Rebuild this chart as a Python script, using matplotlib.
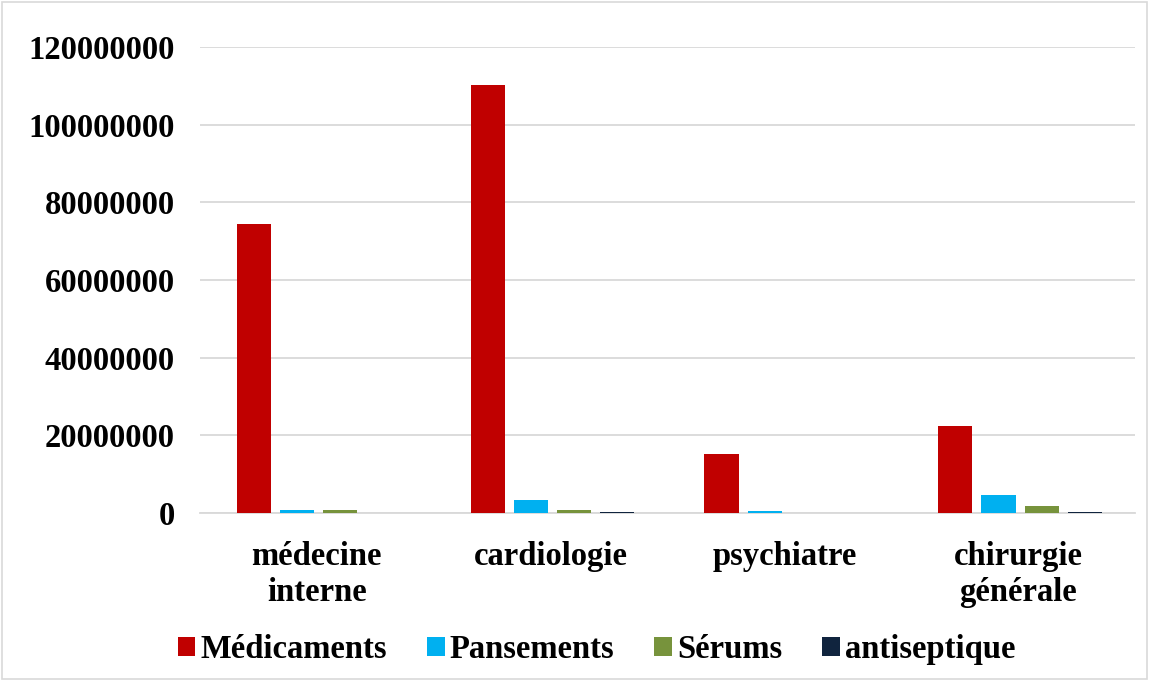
import numpy as np
import matplotlib.pyplot as plt
from matplotlib.patches import Rectangle

# categories and series
services = ['médecine\ninterne', 'cardiologie', 'psychiatre', 'chirurgie\ngénérale']
series = ['Médicaments', 'Pansements', 'Sérums', 'antiseptique']
medicaments = [74500000, 110200000, 15200000, 22400000]
pansements = [700000, 3400000, 500000, 4600000]
serums = [700000, 700000, 0, 1800000]
antiseptique = [100000, 200000, 0, 200000]
yticks = [0, 20000000, 40000000, 60000000, 80000000, 100000000, 120000000]

colors = ['#C00000', '#00B0F0', '#77933C', '#10243E']

plt.rcParams['font.family'] = ['Liberation Serif', 'DejaVu Serif']
plt.rcParams['font.weight'] = 'bold'

fig = plt.figure(figsize=(11.49, 6.8), dpi=100)
ax = fig.add_axes([0.174, 0.2456, 0.814, 0.6853])

x = np.arange(len(services))
slot = 0.185
width = 0.146
data = [medicaments, pansements, serums, antiseptique]
for i, (vals, name, c) in enumerate(zip(data, series, colors)):
    ax.bar(x + (i - 1.5) * slot + 0.008, vals, width, color=c, label=name, zorder=3)

ax.set_xlim(-0.5, 3.5)
ax.set_ylim(0, 120000000)
ax.set_yticks(yticks)
ax.set_yticklabels([str(v) for v in yticks], fontsize=23.5, fontweight='bold')
ax.set_xticks(x)
ax.set_xticklabels(services, fontsize=23.5, fontweight='bold', linespacing=1.2)
ax.tick_params(axis='both', length=0)
ax.tick_params(axis='x', pad=20)
ax.tick_params(axis='y', pad=18)
ax.grid(axis='y', color='#d9d9d9', linewidth=1.3, zorder=0)
for s in ['top', 'right', 'left']:
    ax.spines[s].set_visible(False)
ax.spines['bottom'].set_color('#d9d9d9')
ax.spines['bottom'].set_linewidth(1.3)

leg = fig.legend(loc='center', bbox_to_anchor=(0.519, 0.045), ncol=4, frameon=False,
                 prop={'size': 23.5, 'weight': 'bold'}, handlelength=0.55, handleheight=0.55,
                 handletextpad=0.15, columnspacing=1.22)

# light frame around the chart
fig.patches.append(Rectangle((0.002, 0.002), 0.996, 0.995, transform=fig.transFigure,
                             fill=False, edgecolor='#d9d9d9', linewidth=1.2))

fig.savefig('out.png', dpi=100)
